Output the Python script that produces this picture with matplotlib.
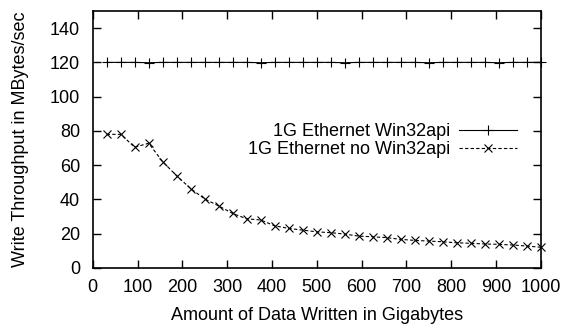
import matplotlib
matplotlib.use("Agg")
import matplotlib.pyplot as plt
import numpy as np

plt.rcParams["font.family"] = ["Liberation Sans", "DejaVu Sans"]
plt.rcParams["font.size"] = 13

# Write throughput sampled every 1/32 of the run (GB written)
written_gb = [31.25 * k for k in range(1, 33)]

win32api = [120, 120, 120, 119.8, 120, 120, 120, 120, 120, 120, 120,
            119.8, 120, 120, 120, 120, 120, 119.8, 120, 120, 120, 120,
            120, 119.8, 120, 120, 120, 120, 119.8, 120, 120, 120]

no_win32api = [78, 78, 70.5, 72.8, 62, 53.8, 46.3, 40.3, 36.2, 31.8, 28.7,
               28, 24.6, 23.1, 22.1, 21.1, 20.6, 19.8, 18.6, 18.2, 17.7,
               16.7, 16.1, 15.7, 15.3, 14.7, 14.4, 14, 13.8, 13.4, 12.8, 12.1]

fig = plt.figure(figsize=(5.66, 3.28), dpi=100)
ax = fig.add_axes([0.1638, 0.183, 0.7915, 0.7835])

ax.plot(written_gb, win32api, color="black", lw=0.8, marker="+", ms=6.5,
        mew=0.8, label="1G Ethernet Win32api", clip_on=False)
ax.plot(written_gb, no_win32api, color="black", lw=0.8, marker="x", ms=5.5,
        mew=0.8, dashes=(3, 2), label="1G Ethernet no Win32api", clip_on=False)

ax.set_xlim(0, 1000)
ax.set_ylim(0, 150)
ax.set_xticks(np.arange(0, 1001, 100))
ax.set_yticks(np.arange(0, 141, 20))
ax.tick_params(direction="in", length=6, width=1, top=True, right=True,
               labelsize=13)
ax.tick_params(axis="x", pad=8)
ax.tick_params(axis="y", pad=9)
for sp in ax.spines.values():
    sp.set_linewidth(1.2)

ax.set_xlabel("Amount of Data Written in Gigabytes", fontsize=13, labelpad=8)
ax.set_ylabel("Write Throughput in MBytes/sec", fontsize=13, labelpad=15)

leg = ax.legend(loc="center right", bbox_to_anchor=(0.947, 0.495),
                frameon=False, markerfirst=False, handlelength=3.2,
                handletextpad=0.5, labelspacing=0.05, borderpad=0,
                borderaxespad=0, fontsize=13)
# right-align the legend rows like gnuplot does
for col in leg._legend_handle_box.get_children():
    col.align = "right"

fig.savefig("out.png", dpi=100)
